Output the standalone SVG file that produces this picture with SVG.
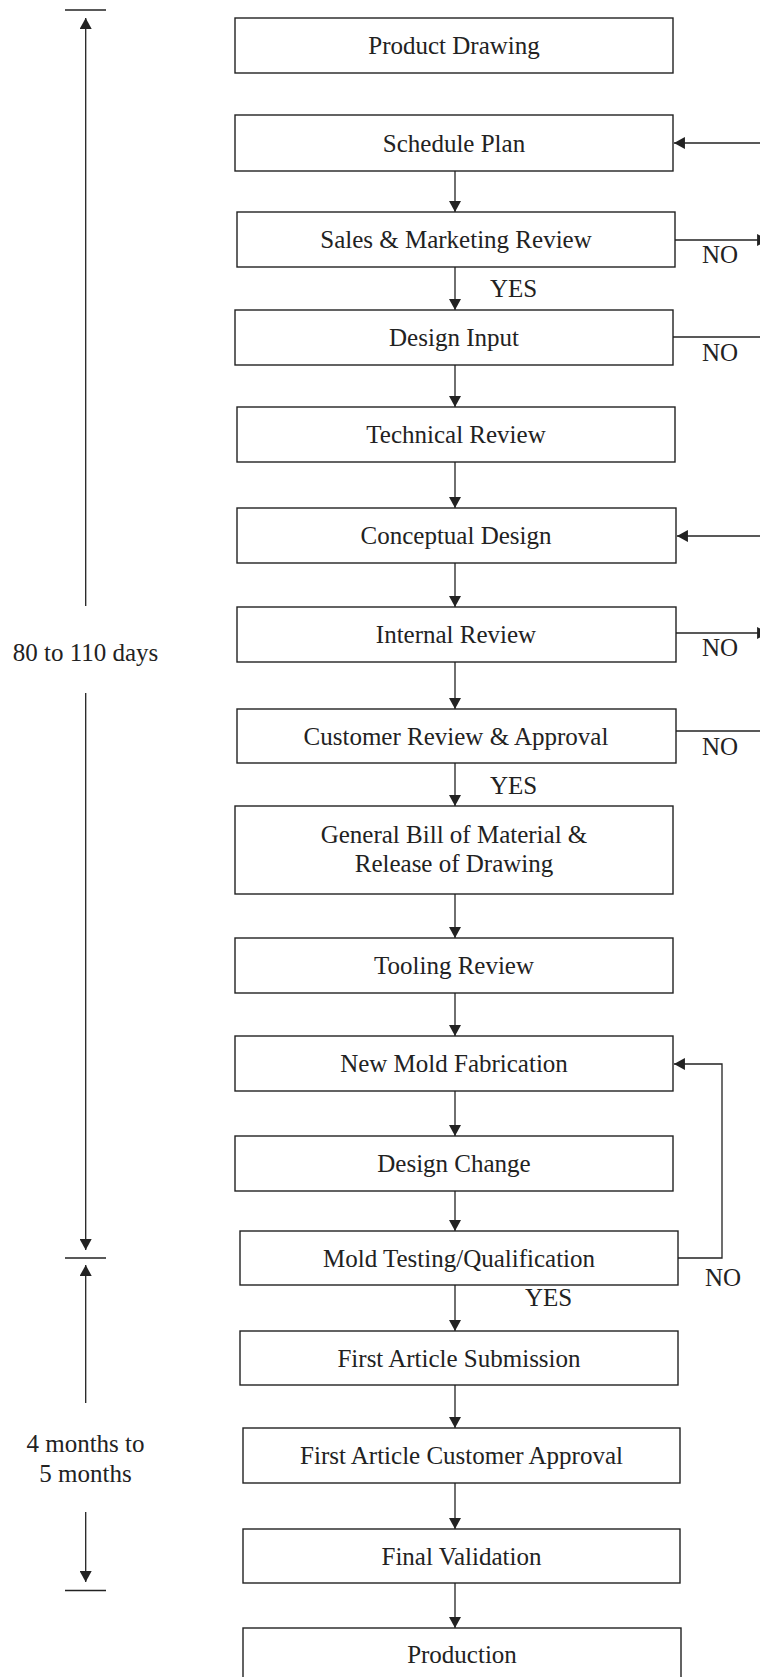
<svg xmlns="http://www.w3.org/2000/svg" width="760" height="1677" viewBox="0 0 760 1677">
<style>
.box{fill:#fff;stroke:#222;stroke-width:1.4}
.t{font-family:"Liberation Serif","Times New Roman",serif;font-size:25px;fill:#222;text-anchor:middle}
.l{font-family:"Liberation Serif","Times New Roman",serif;font-size:25px;fill:#222}
.c{fill:none;stroke:#222;stroke-width:1.3}
</style>
<defs>
<marker id="ah" markerUnits="userSpaceOnUse" markerWidth="12" markerHeight="12" viewBox="0 0 10 11" refX="10" refY="5.5" orient="auto">
<path d="M0,0 L10,5.5 L0,11 Z" fill="#222"/>
</marker>
</defs>
<rect width="760" height="1677" fill="#fff"/>
<g id="connectors">
<line class="c" x1="455" y1="171" x2="455" y2="212" marker-end="url(#ah)"/>
<line class="c" x1="455" y1="267" x2="455" y2="310" marker-end="url(#ah)"/>
<line class="c" x1="455" y1="365" x2="455" y2="407" marker-end="url(#ah)"/>
<line class="c" x1="455" y1="462" x2="455" y2="508" marker-end="url(#ah)"/>
<line class="c" x1="455" y1="563" x2="455" y2="607" marker-end="url(#ah)"/>
<line class="c" x1="455" y1="662" x2="455" y2="709" marker-end="url(#ah)"/>
<line class="c" x1="455" y1="763" x2="455" y2="806" marker-end="url(#ah)"/>
<line class="c" x1="455" y1="894" x2="455" y2="938" marker-end="url(#ah)"/>
<line class="c" x1="455" y1="993" x2="455" y2="1036" marker-end="url(#ah)"/>
<line class="c" x1="455" y1="1091" x2="455" y2="1136" marker-end="url(#ah)"/>
<line class="c" x1="455" y1="1191" x2="455" y2="1231" marker-end="url(#ah)"/>
<line class="c" x1="455" y1="1285" x2="455" y2="1331" marker-end="url(#ah)"/>
<line class="c" x1="455" y1="1385" x2="455" y2="1428" marker-end="url(#ah)"/>
<line class="c" x1="455" y1="1483" x2="455" y2="1529" marker-end="url(#ah)"/>
<line class="c" x1="455" y1="1583" x2="455" y2="1628" marker-end="url(#ah)"/>
<!-- right-side feedback lines (cut at edge) -->
<line class="c" x1="762" y1="143" x2="674" y2="143" marker-end="url(#ah)"/>
<line class="c" x1="675" y1="240" x2="768" y2="240" marker-end="url(#ah)"/>
<line class="c" x1="673" y1="337" x2="762" y2="337"/>
<line class="c" x1="762" y1="536" x2="677" y2="536" marker-end="url(#ah)"/>
<line class="c" x1="676" y1="633" x2="768" y2="633" marker-end="url(#ah)"/>
<line class="c" x1="676" y1="731" x2="762" y2="731"/>
<polyline class="c" points="678,1258 722,1258 722,1064 674,1064" marker-end="url(#ah)"/>
<!-- timeline -->
<line class="c" x1="65" y1="10" x2="106" y2="10"/>
<line class="c" x1="85.7" y1="606" x2="85.7" y2="18" marker-end="url(#ah)"/>
<line class="c" x1="85.7" y1="693" x2="85.7" y2="1250" marker-end="url(#ah)"/>
<line class="c" x1="65" y1="1258" x2="106" y2="1258"/>
<line class="c" x1="85.7" y1="1403" x2="85.7" y2="1265" marker-end="url(#ah)"/>
<line class="c" x1="85.7" y1="1512" x2="85.7" y2="1582" marker-end="url(#ah)"/>
<line class="c" x1="65" y1="1590.5" x2="106" y2="1590.5"/>
</g>
<g id="labels">
<text class="l" x="490" y="297">YES</text>
<text class="l" x="490" y="794">YES</text>
<text class="l" x="525" y="1306">YES</text>
<text class="l" x="702" y="263">NO</text>
<text class="l" x="702" y="361">NO</text>
<text class="l" x="702" y="656">NO</text>
<text class="l" x="702" y="755">NO</text>
<text class="l" x="705" y="1286">NO</text>
<text class="t" x="85.5" y="661">80 to 110 days</text>
<text class="t" x="85.5" y="1452">4 months to</text>
<text class="t" x="85.5" y="1482">5 months</text>
</g>
<g id="n1"><rect class="box" x="235" y="18" width="438" height="55"/><text class="t" x="454" y="54">Product Drawing</text></g>
<g id="n2"><rect class="box" x="235" y="115" width="438" height="56"/><text class="t" x="454" y="151.5">Schedule Plan</text></g>
<g id="n3"><rect class="box" x="237" y="212" width="438" height="55"/><text class="t" x="456" y="248">Sales &amp; Marketing Review</text></g>
<g id="n4"><rect class="box" x="235" y="310" width="438" height="55"/><text class="t" x="454" y="346">Design Input</text></g>
<g id="n5"><rect class="box" x="237" y="407" width="438" height="55"/><text class="t" x="456" y="443">Technical Review</text></g>
<g id="n6"><rect class="box" x="237" y="508" width="439" height="55"/><text class="t" x="456" y="544">Conceptual Design</text></g>
<g id="n7"><rect class="box" x="237" y="607" width="439" height="55"/><text class="t" x="456" y="643">Internal Review</text></g>
<g id="n8"><rect class="box" x="237" y="709" width="439" height="54"/><text class="t" x="456" y="745">Customer Review &amp; Approval</text></g>
<g id="n9"><rect class="box" x="235" y="806" width="438" height="88"/><text class="t" x="454" y="843">General Bill of Material &amp;</text><text class="t" x="454" y="872">Release of Drawing</text></g>
<g id="n10"><rect class="box" x="235" y="938" width="438" height="55"/><text class="t" x="454" y="974">Tooling Review</text></g>
<g id="n11"><rect class="box" x="235" y="1036" width="438" height="55"/><text class="t" x="454" y="1072">New Mold Fabrication</text></g>
<g id="n12"><rect class="box" x="235" y="1136" width="438" height="55"/><text class="t" x="454" y="1172">Design Change</text></g>
<g id="n13"><rect class="box" x="240" y="1231" width="438" height="54"/><text class="t" x="459" y="1267">Mold Testing/Qualification</text></g>
<g id="n14"><rect class="box" x="240" y="1331" width="438" height="54"/><text class="t" x="459" y="1367">First Article Submission</text></g>
<g id="n15"><rect class="box" x="243" y="1428" width="437" height="55"/><text class="t" x="461.5" y="1464">First Article Customer Approval</text></g>
<g id="n16"><rect class="box" x="243" y="1529" width="437" height="54"/><text class="t" x="461.5" y="1565">Final Validation</text></g>
<g id="n17"><rect class="box" x="243" y="1628" width="438" height="62"/><text class="t" x="462" y="1663">Production</text></g>
</svg>
